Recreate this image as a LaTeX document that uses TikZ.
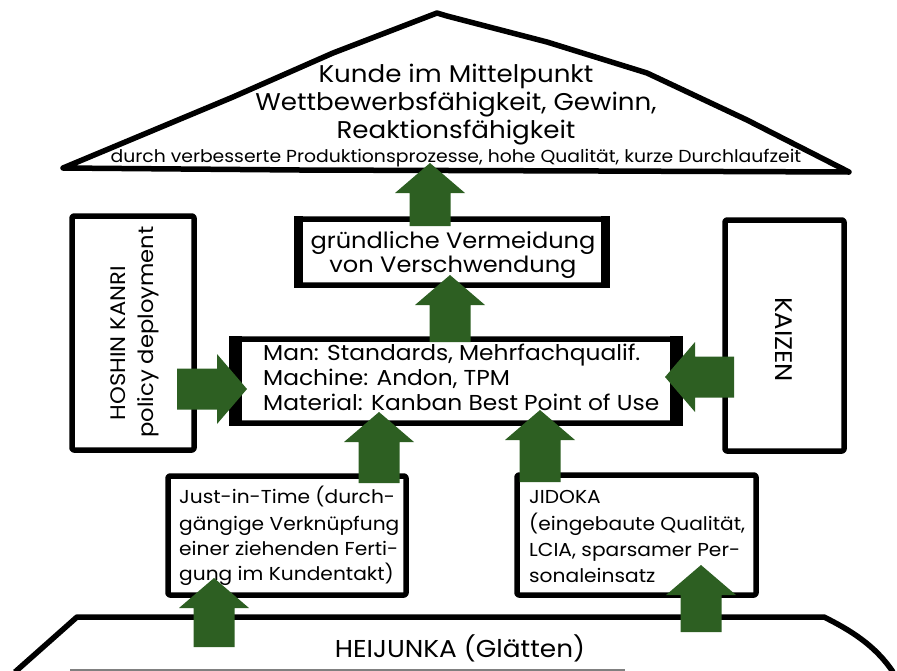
\documentclass[tikz,border=0pt]{standalone}
\usepackage{fontspec}
\setmainfont{Poppins}[FakeStretch=1.08]
\definecolor{agreen}{RGB}{45,95,34}
\tikzset{
  boxline/.style={draw=black, line width=5.5pt, line join=round, rectangle, rounded corners=2pt, fill=white, inner sep=0pt},
  txt/.style={inner sep=0pt, anchor=base, text=black},
  txtl/.style={inner sep=0pt, anchor=base west, text=black},
  fsbig/.style={font=\fontsize{24.2}{28}\selectfont},
  fssmall/.style={font=\fontsize{17.4}{18}\selectfont},
  fsgr/.style={font=\fontsize{22.3}{25}\selectfont},
  fsmid/.style={font=\fontsize{21.6}{25}\selectfont},
  fsbox/.style={font=\fontsize{18.7}{26}\selectfont},
  fsheij/.style={font=\fontsize{24.4}{28}\selectfont},
  fsside/.style={font=\fontsize{21}{26}\selectfont},
  pics/fatarrow/.style={code={
    \fill[agreen] (0,0) -- (-30,-35) -- (-30,-20.5) -- (-#1,-20.5) -- (-#1,20.5) -- (-30,20.5) -- (-30,35) -- cycle;
  }}
}
\begin{document}
\begin{tikzpicture}[x=1pt,y=-1pt]
\useasboundingbox (0,0) rectangle (897,670);
% roof
\draw[line width=5.5pt, line join=round, fill=white] (63,168) -- (233,97) -- (333,53) -- (437,13) -- (447,16) -- (547,42) -- (647,73) -- (747,120) -- (849,172) -- (600,171) -- (300,170) -- cycle;
\node[txt,fsbig] (r1) at (456,82) {Kunde im Mittelpunkt};
\node[txt,fsbig] (r2) at (456,110) {Wettbewerbsfähigkeit, Gewinn,};
\node[txt,fsbig] (r3) at (456,138) {Reaktionsfähigkeit};
\node[txt,fssmall] (r4) at (456,162) {durch verbesserte Produktionsprozesse, hohe Qualität, kurze Durchlaufzeit};
% base
\draw[line width=5.5pt, line join=round] (15,672) -- (77,617) -- (824,617) .. controls (850,630) and (875,645) .. (893,672);
\draw[gray, line width=2pt] (70,669.5) -- (625,669.5);
\node[txt,fsheij] (heij) at (460,657) {HEIJUNKA (Glätten)};
% boxes
\node[boxline, minimum width=306pt, minimum height=66pt] (gr) at (452,252) {};
\draw[line width=9pt] ([xshift=2pt]gr.north west) -- ([xshift=2pt]gr.south west);
\draw[line width=9pt] ([xshift=-2pt]gr.north east) -- ([xshift=-2pt]gr.south east);
\node[txt,fsgr] (g1) at (453,248) {gründliche Vermeidung};
\node[txt,fsgr] (g2) at (453,272) {von Verschwendung};

\node[boxline, minimum width=444pt, minimum height=84pt] (man) at (456,381) {};
\draw[line width=13pt] ([xshift=4pt]man.north west) -- ([xshift=4pt]man.south west);
\draw[line width=13pt] ([xshift=-4pt]man.north east) -- ([xshift=-4pt]man.south east);
\node[txtl,fsmid] (m1) at (263,360) {Man: Standards, Mehrfachqualif.};
\node[txtl,fsmid] (m2) at (263,385) {Machine: Andon, TPM};
\node[txtl,fsmid] (m3) at (263,410) {Material: Kanban Best Point of Use};

\node[boxline, minimum width=122pt, minimum height=234pt] (hoshin) at (133,333) {};
\node[inner sep=0pt, rotate=90, fsside] (ht1) at (118,343) {HOSHIN KANRI};
\node[inner sep=0pt, rotate=90, fsside] (ht2) at (148,332) {policy deployment};

\node[boxline, minimum width=119pt, minimum height=231pt] (kaizen) at (784.5,335.5) {};
\node[inner sep=0pt, rotate=-90, font=\fontsize{24}{28}\selectfont] (kt) at (784,339.5) {KAIZEN};

\node[boxline, minimum width=238pt, minimum height=119pt] (jit) at (287,535.5) {};
\node[txtl,fsbox] (j1) at (179,503) {Just-in-Time (durch-};
\node[txtl,fsbox] (j2) at (179,530) {gängige Verknüpfung};
\node[txtl,fsbox] (j3) at (179,555) {einer ziehenden Ferti-};
\node[txtl,fsbox] (j4) at (179,580) {gung im Kundentakt)};

\node[boxline, minimum width=239pt, minimum height=120pt] (jid) at (636.5,535) {};
\node[txtl,fsbox] (d1) at (529,503) {JIDOKA};
\node[txtl,fsbox] (d2) at (529,530) {(eingebaute Qualität,};
\node[txtl,fsbox] (d3) at (529,556) {LCIA, sparsamer Per-};
\node[txtl,fsbox] (d4) at (529,582) {sonaleinsatz};
% arrows
\pic[rotate=90] at (430,163) {fatarrow=63};
\pic[rotate=90] at (450,275) {fatarrow=67};
\pic[rotate=90] at (379,412) {fatarrow=71};
\pic[rotate=90] at (540,410) {fatarrow=72};
\pic[rotate=90] at (214,578) {fatarrow=69};
\pic[rotate=90] at (701,565) {fatarrow=67};
\pic at (247,389) {fatarrow=70};
\pic[rotate=180] at (665,377) {fatarrow=69};
\end{tikzpicture}
\end{document}
